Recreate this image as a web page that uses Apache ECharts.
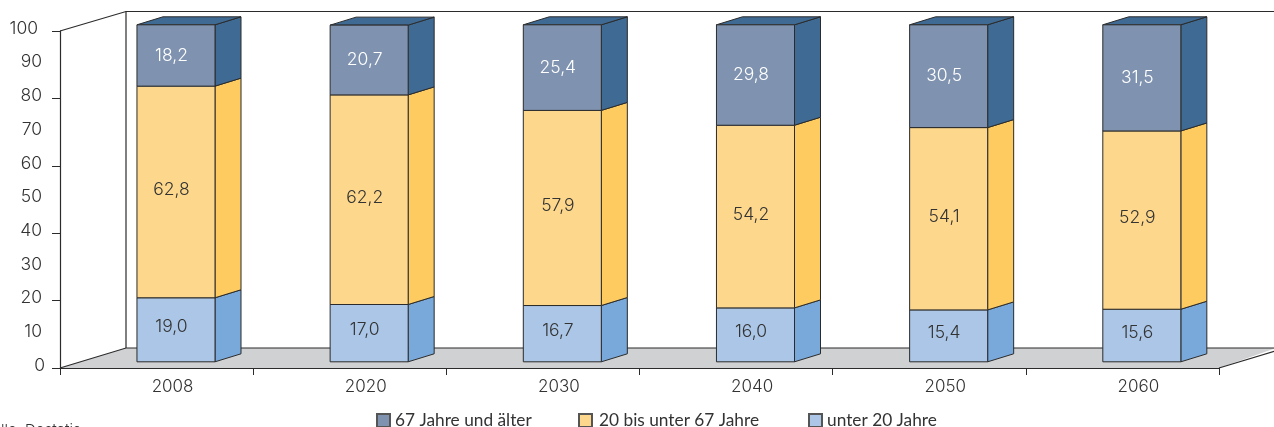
<!DOCTYPE html>
<html><head><meta charset="utf-8">
<style>html,body{margin:0;padding:0;background:#fff;overflow:hidden}#c{width:1274px;height:427px}</style>
<script src="https://cdn.jsdelivr.net/npm/echarts@6/dist/echarts.min.js"></script>
</head><body><div id="c"></div>
<script>
const years = ['2008','2020','2030','2040','2050','2060'];
const under20 = [19.0,17.0,16.7,16.0,15.4,15.6];
const middle = [62.8,62.2,57.9,54.2,54.1,52.9];
const over67 = [18.2,20.7,25.4,29.8,30.5,31.5];
const yTicks = [0,20,40,60,80,100];
const names = ['67 Jahre und älter','20 bis unter 67 Jahre','unter 20 Jahre'];
const FONT = 'Inter', LEGENDFONT = 'Lato', INK = '#333333', EDGE = '#2b2b2b';
const chart = echarts.init(document.getElementById('c'), null, {renderer:'canvas'});
const fmt = v => v.toFixed(1).replace('.', ',');

function poly(points, fill, z2) {
  return {type:'polygon', z2, shape:{points}, style:{fill, stroke:EDGE, lineWidth:1}};
}
function segment(front, side, textColor, labelShift) {
  return function (params, api) {
    const i = api.value(0), lo = api.value(1), hi = api.value(2);
    const band = api.size([1,0])[0];
    const c0 = api.coord([i, lo]), c1 = api.coord([i, hi]);
    const w = band * 0.404, ox = 19.4, oy = -6.2, dx = 26, dy = -8;
    const x0 = c0[0] - w / 2 + ox, x1 = x0 + w, yb = c0[1] + oy, yt = c1[1] + oy;
    const kids = [
      poly([[x1,yb],[x1+dx,yb+dy],[x1+dx,yt+dy],[x1,yt]], side, 1),
      poly([[x0,yb],[x1,yb],[x1,yt],[x0,yt]], front, 2),
      {type:'text', z2:3, style:{text:fmt(hi-lo), x:(x0+x1)/2-4.5, y:(yb+yt)/2+labelShift, align:'center', verticalAlign:'middle',
        fill:textColor, font:'300 17.5px '+FONT}}
    ];
    if (hi >= 99.9) kids.push(poly([[x0,yt],[x1,yt],[x1+dx,yt+dy],[x0+dx,yt+dy]], side, 1));
    return {type:'group', children:kids};
  };
}
function stage(params, api) {
  const r = params.coordSys, dx = 66, dy = -20, L = r.x, B = r.y + r.height, T = r.y, R = r.x + r.width;
  const line = pts => ({type:'polyline', shape:{points:pts}, style:{fill:null, stroke:EDGE, lineWidth:1.2}});
  return {type:'group', children:[
    {type:'polygon', shape:{points:[[L,B],[L+dx,B+dy],[1276,B+dy],[R,B]]}, style:{fill:'#d0d1d3', stroke:null}},
    line([[L,B],[L+dx,B+dy],[1276,B+dy]]),
    line([[R,B],[R+56,B-17]]),
    line([[L,T],[L+dx,T+dy+0.5],[1276,T+dy+0.5]]),
    line([[L+dx,T+dy+0.5],[L+dx,B+dy]])
  ]};
}
const rows = (lo, hi) => years.map((y,i) => [i, lo(i), hi(i)]);
const a = i => under20[i], b = i => under20[i] + middle[i], t = i => under20[i] + middle[i] + over67[i];
const seg = (name, data, front, side, tc, shift) => ({
  type:'custom', name, data, renderItem:segment(front, side, tc, shift), coordinateSystem:'cartesian2d',
  clip:false, z:5, encode:{x:0,y:2}, itemStyle:{color:front, borderColor:'#555', borderWidth:1}
});
const legend = (name, left, pad) => ({
  show:true, data:[name], left, top:412, itemWidth:13, itemHeight:13, icon:'rect', selectedMode:false, padding:0,
  textStyle:{fontFamily:LEGENDFONT, fontSize:17.3, color:INK, padding:[0,0,0,pad]}
});
const lab = pad => ({padding:[0,pad,5,0],fontFamily:FONT,fontWeight:300,fontSize:17.5,color:INK});
const rich = {a:lab(4),b:lab(7),c:lab(11)};
chart.setOption({
  animation:false, backgroundColor:'#fff',
  textStyle:{fontFamily:FONT},
  grid:{left:60, top:31, width:1159, height:337, containLabel:false},
  legend:[legend(names[0],376,0), legend(names[1],578,2), legend(names[2],808,0)],
  xAxis:{type:'category', data:years, z:6,
    axisLine:{lineStyle:{color:EDGE,width:1.2}},
    axisTick:{show:true,alignWithLabel:false,length:7,lineStyle:{color:EDGE}},
    axisLabel:{margin:10,fontFamily:FONT,fontWeight:300,fontSize:17,color:INK,padding:[0,0,0,32]}},
  yAxis:{type:'value', min:0, max:100, interval:10, z:6,
    splitLine:{show:false},
    axisLine:{show:true,lineStyle:{color:EDGE,width:1.2}},
    axisTick:{show:true,length:8,customValues:yTicks,lineStyle:{color:EDGE}},
    axisLabel:{margin:11,color:INK,rich,formatter:v => v===0?`{a|0}`:(v===100?`{c|100}`:`{b|${v}}`)}},
  series:[
    {type:'custom', name:'stage', silent:true, data:[[0,0,0]], renderItem:stage, clip:false, z:1, encode:{x:0,y:1}},
    seg(names[2], rows(()=>0,a), '#abc6e6', '#78a9da', INK, -3),
    seg(names[1], rows(a,b), '#fdd78c', '#fdcb60', INK, -2),
    seg(names[0], rows(b,t), '#7f93b0', '#3f6a93', '#ffffff', 0)
  ],
  graphic:[{type:'text', left:-28, top:423, style:{text:'Quelle: Destatis', font:'300 15px '+FONT, fill:INK}}]
});
</script></body></html>
